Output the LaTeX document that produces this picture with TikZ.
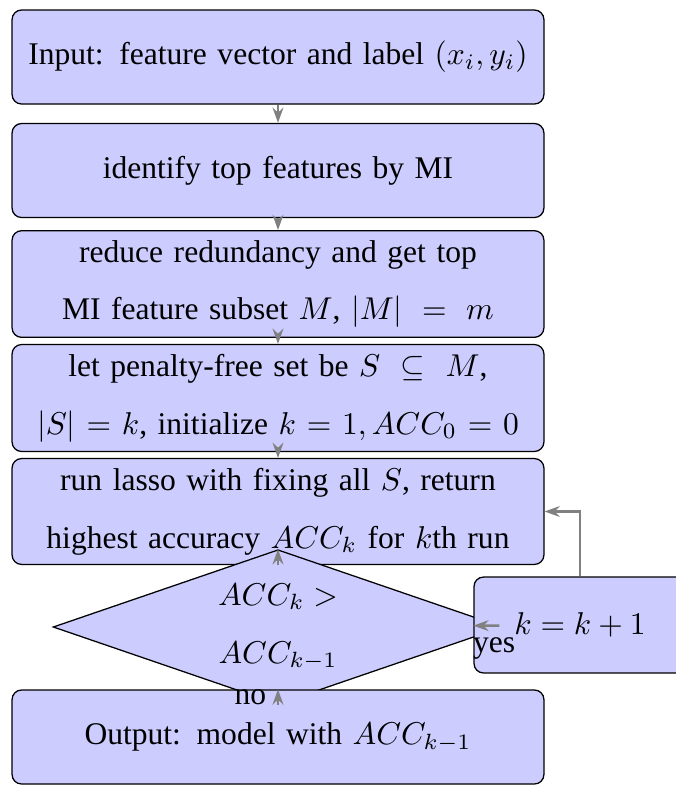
\documentclass[tikz,border=0pt]{standalone}
\usepackage{fontspec}
\setmainfont{Liberation Serif}
\usetikzlibrary{shapes.geometric,arrows.meta}

\tikzset{
    proc node/.style={rectangle,draw,rounded corners=3pt,fill=blue!20,align=center,
        text width=162pt,minimum width=168.6pt,minimum height=29.8pt,inner sep=3pt,
        font=\linespread{1.53}\selectfont},
    test node/.style={diamond,draw,fill=blue!20,align=center,aspect=2.9,
        minimum width=142.6pt,minimum height=49pt,inner sep=1pt,
        font=\linespread{1.53}\selectfont},
    inc node/.style={rectangle,draw,rounded corners=3pt,fill=blue!20,
        minimum width=67.2pt,minimum height=30.4pt},
    flow/.style={draw=gray,thick,-{Stealth[length=4.8pt,width=3.4pt]}}
    }

\begin{document}
\begin{tikzpicture}[x=0.317pt,y=-0.317pt]
                \useasboundingbox (0,0) rectangle (676,785);
                \node(input)[proc node] at (278,57){Input: feature vector and label $(x_i,y_i)$};
                \node(mi)[proc node] at (278,170.5){identify top features by MI};
                \node(red)[proc node] at (278,284){reduce redundancy and get top\\
                    MI feature subset $M$, $|M|\,=\,m$};
                \node(pen)[proc node] at (278,398){let penalty-free set be $S\,\subseteq\,M$,\\
                    $|S|=k$, initialize $k=1, ACC_0=0$};
                \node(lasso)[proc node] at (278,511.5){run lasso with fixing all $S$, return\\
                    highest accuracy $ACC_k$ for $k$th run};
                \node(test)[test node] at (278,627){$ACC_k >$\\ $ACC_{k-1}$};
                \node(inc)[inc node] at (580,625){$k=k+1$};
                \node(output)[proc node] at (278,737){Output: model with $ACC_{k-1}$};
                % connectors
                \draw[flow] (input) -- (mi);
                \draw[flow] (mi) -- (red);
                \draw[flow] (red) -- (pen);
                \draw[flow] (pen) -- (lasso);
                \draw[flow] (lasso) -- (test);
                \draw[flow] (test) -- node[below,pos=0.2]{yes} (inc);
                \draw[flow] (test) -- node[left]{no} (output);
                \draw[flow] (inc) |- (lasso);
            \end{tikzpicture}
\end{document}
